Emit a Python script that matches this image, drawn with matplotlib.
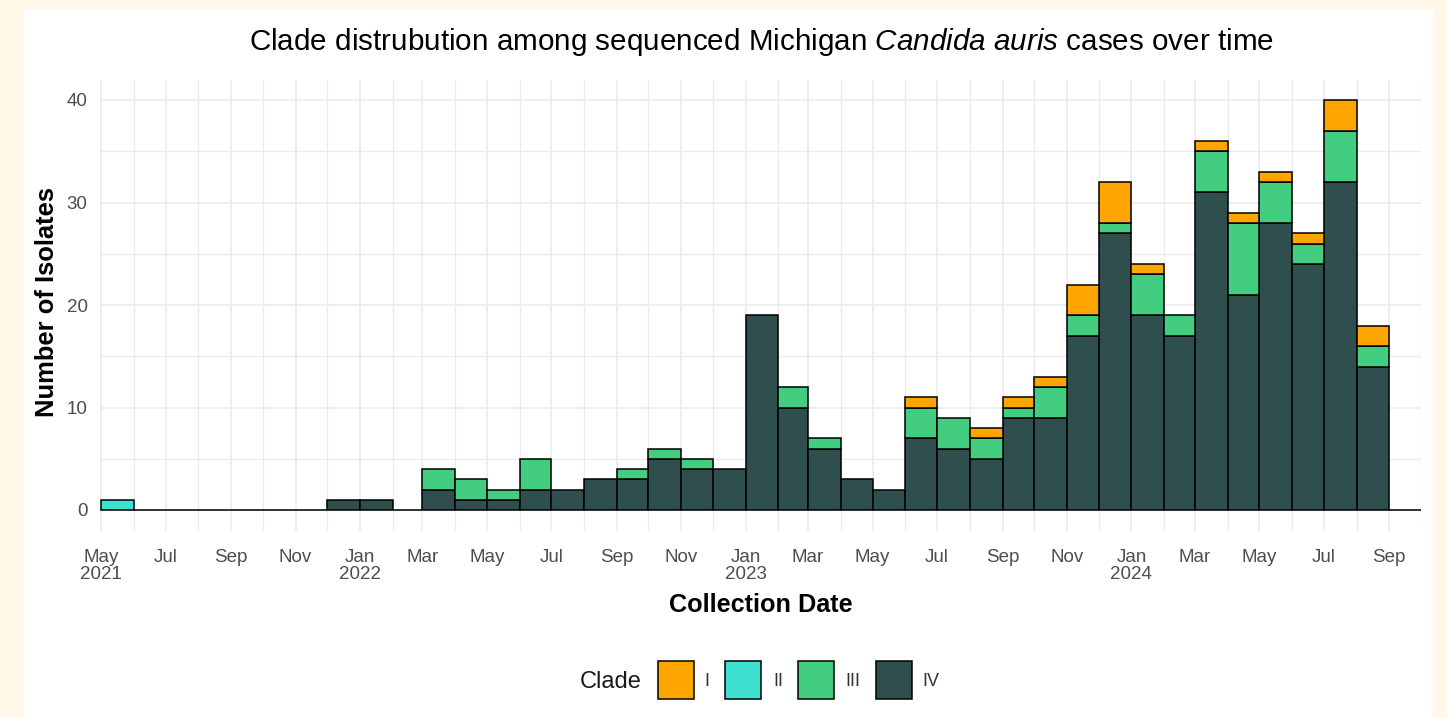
import numpy as np
import pandas as pd
import matplotlib
matplotlib.use("Agg")
import matplotlib.pyplot as plt
import matplotlib.dates as mdates
from matplotlib.patches import Rectangle

plt.rcParams['font.family'] = ['Liberation Sans', 'DejaVu Sans']
plt.rcParams['mathtext.fontset'] = 'custom'
plt.rcParams['mathtext.rm'] = 'Liberation Sans'
plt.rcParams['mathtext.it'] = 'Liberation Sans:italic'
plt.rcParams['mathtext.bf'] = 'Liberation Sans:bold'

# ---------------- data ----------------
first_month = "2021-05-01"
last_month = "2024-09-01"

clade_I = [0, 0, 0, 0, 0, 0, 0, 0, 0, 0,
           0, 0, 0, 0, 0, 0, 0, 0, 0, 0,
           0, 0, 0, 0, 0, 1, 0, 1, 1, 1,
           3, 4, 1, 0, 1, 1, 1, 1, 3, 2, 0]
clade_II = [1, 0, 0, 0, 0, 0, 0, 0, 0, 0,
            0, 0, 0, 0, 0, 0, 0, 0, 0, 0,
            0, 0, 0, 0, 0, 0, 0, 0, 0, 0,
            0, 0, 0, 0, 0, 0, 0, 0, 0, 0, 0]
clade_III = [0, 0, 0, 0, 0, 0, 0, 0, 0, 0,
             2, 2, 1, 3, 0, 0, 1, 1, 1, 0,
             0, 2, 1, 0, 0, 3, 3, 2, 1, 3,
             2, 1, 4, 2, 4, 7, 4, 2, 5, 2, 0]
clade_IV = [0, 0, 0, 0, 0, 0, 0, 1, 1, 0,
            2, 1, 1, 2, 2, 3, 3, 5, 4, 4,
            19, 10, 6, 3, 2, 7, 6, 5, 9, 9,
            17, 27, 19, 17, 31, 21, 28, 24, 32, 14, 0]

clade_names = ["I", "II", "III", "IV"]
clade_colors = {"I": "#FFA500", "II": "#40E0D0", "III": "#43CD80", "IV": "#2F4F4F"}

x_tick_labels = ["May\n2021", "Jul", "Sep", "Nov", "Jan\n2022", "Mar", "May", "Jul",
                 "Sep", "Nov", "Jan\n2023", "Mar", "May", "Jul", "Sep", "Nov",
                 "Jan\n2024", "Mar", "May", "Jul", "Sep"]
y_ticks = [0, 10, 20, 30, 40]

title_text = "Clade distrubution among sequenced Michigan $\\mathit{Candida\\ auris}$ cases over time"
x_title = "Collection Date"
y_title = "Number of Isolates"
legend_title = "Clade"

# ---------------- figure ----------------
W, H = 1447, 717
fig = plt.figure(figsize=(W / 100, H / 100), dpi=100)
fig.patch.set_facecolor("#FFF7E8")
fig.add_artist(Rectangle((24 / W, 0), (1433 - 24) / W, 1 - 10 / H,
                         transform=fig.transFigure, facecolor="white",
                         edgecolor="none", zorder=0))

ax = fig.add_axes([100 / W, 1 - 530.5 / H, (1421 - 100) / W, (530.5 - 79.5) / H])
ax.set_facecolor("none")

starts = pd.date_range(first_month, last_month, freq="MS")
ends = starts + pd.offsets.MonthBegin(1)
left = mdates.date2num(starts.to_pydatetime())
widths = mdates.date2num(ends.to_pydatetime()) - left

series = {"IV": np.array(clade_IV), "III": np.array(clade_III),
          "II": np.array(clade_II), "I": np.array(clade_I)}
totals = series["IV"] + series["III"] + series["II"] + series["I"]
bottom = np.zeros(len(starts))
for name in ["IV", "III", "II", "I"]:
    vals = series[name]
    mask = vals > 0
    if name == "IV":
        mask = (vals > 0) | (totals == 0)
    ax.bar(left[mask], vals[mask], width=widths[mask], bottom=bottom[mask], align="edge",
           color=clade_colors[name], edgecolor="black", linewidth=1.1, zorder=3)
    bottom = bottom + vals

# axes limits and grid
ax.set_xlim(mdates.date2num(pd.Timestamp("2021-04-30")), mdates.date2num(pd.Timestamp("2024-10-01")))
ax.set_ylim(-2, 42)

major_x = mdates.date2num(starts[::2].to_pydatetime())
minor_x = np.concatenate([mdates.date2num(starts[1::2].to_pydatetime()),
                          [mdates.date2num(ends[-1].to_pydatetime())]])
ax.set_xticks(major_x)
ax.set_xticklabels(x_tick_labels, linespacing=1.05)
ax.set_xticks(minor_x, minor=True)
ax.set_yticks(y_ticks)
ax.set_yticks([5, 15, 25, 35], minor=True)

ax.grid(True, which="major", color="#EBEBEB", linewidth=1.2, zorder=0)
ax.grid(True, which="minor", color="#EBEBEB", linewidth=0.9, zorder=0)
ax.set_axisbelow(True)
for s in ax.spines.values():
    s.set_visible(False)
ax.tick_params(axis="both", which="both", length=0)
ax.tick_params(axis="x", pad=13, labelsize=13.5, labelcolor="#4D4D4D")
ax.tick_params(axis="y", pad=9, labelsize=13.5, labelcolor="#4D4D4D")

# titles
fig.text(761 / W, 1 - 42 / H, title_text, ha="center", va="center", fontsize=21.3, color="black")
fig.text(761 / W, 1 - 605 / H, x_title, ha="center", va="center", fontsize=18.2, fontweight="bold")
fig.text(47 / W, 1 - 302 / H, y_title, ha="center", va="center", rotation=90,
         fontsize=18.4, fontweight="bold")

# legend (manual, bottom)
fig.text(580 / W, 1 - 682 / H, legend_title, ha="left", va="center", fontsize=17, color="#1A1A1A")
key_x = [658, 725, 798, 876]
label_x = [707, 778, 853, 931]
for name, kx, lx in zip(clade_names, key_x, label_x):
    fig.add_artist(Rectangle((kx / W, 1 - 699 / H), 36 / W, 38 / H, transform=fig.transFigure,
                             facecolor=clade_colors[name], edgecolor="black", linewidth=1.1))
    fig.text(lx / W, 1 - 682 / H, name, ha="center", va="center", fontsize=13, color="#333333")

fig.savefig("out.png", dpi=100)
